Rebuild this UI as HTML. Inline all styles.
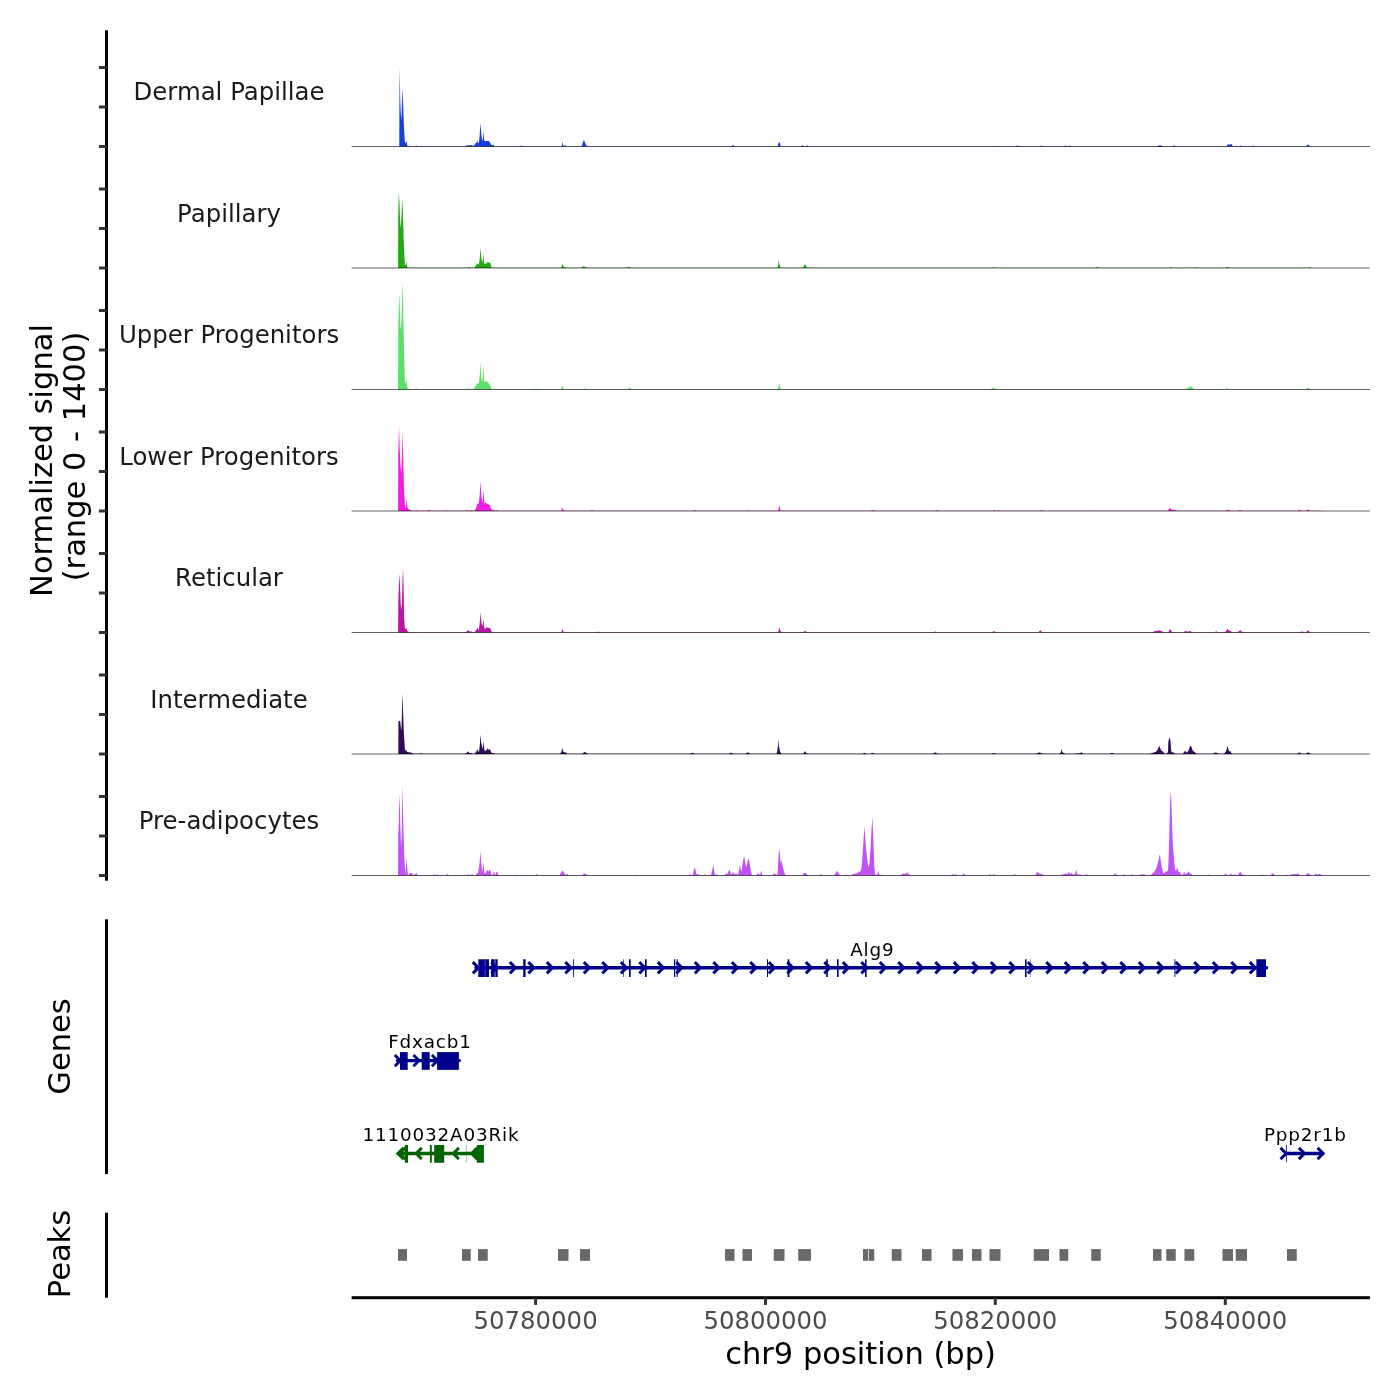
<!DOCTYPE html>
<html lang="en"><head><meta charset="utf-8"><title>chr9 coverage plot</title>
<style>
html,body{margin:0;padding:0;background:#fff;}
body{width:1400px;height:1400px;overflow:hidden;}
svg{display:block;}
text{font-family:"DejaVu Sans", "Liberation Sans", sans-serif;}
.strip{font-size:24.4px;fill:#1a1a1a;text-anchor:middle;}
.ttl{font-size:30.5px;fill:#000;text-anchor:middle;}
.tick{font-size:24.4px;fill:#4d4d4d;text-anchor:middle;}
.gene{font-size:18.4px;fill:#000;text-anchor:middle;letter-spacing:0.8px;}
</style></head><body>
<svg width="1400" height="1400" viewBox="0 0 1400 1400">
<rect x="0" y="0" width="1400" height="1400" fill="#ffffff"/>
<g id="coverage">
<path d="M351.6,146.50L399.30,146.50L399.30,146.35L399.40,106.35L399.70,67.85L400.20,98.35L400.70,112.35L401.40,120.35L402.00,102.35L402.50,87.85L403.10,102.35L403.90,126.35L404.90,142.35L405.70,143.15L406.40,140.55L407.30,145.75L409.00,145.95L409.40,146.22L415.60,146.22L416.00,146.05L416.50,145.35L417.00,146.05L417.40,146.22L431.60,146.22L432.00,146.05L432.40,146.22L449.60,146.22L450.00,146.05L450.40,146.22L465.30,146.22L465.70,145.85L468.00,145.15L470.00,145.35L471.50,144.95L472.50,145.85L474.30,145.35L475.50,143.35L476.50,142.75L477.30,140.15L478.00,142.75L478.80,143.15L479.60,136.35L480.50,123.05L481.30,134.35L482.40,141.45L483.00,137.35L483.50,131.15L484.10,139.35L484.70,141.35L486.30,141.05L488.90,141.05L490.20,142.95L491.40,144.95L492.30,145.35L493.10,144.55L494.40,146.05L494.80,146.22L519.60,146.22L520.00,146.05L521.00,145.55L522.00,146.05L522.40,146.22L561.20,146.22L561.60,145.95L562.10,144.85L562.50,141.15L563.00,144.85L563.60,145.75L565.50,145.45L566.50,146.05L566.90,146.22L581.20,146.22L581.60,146.05L582.40,144.15L583.20,141.15L583.90,140.15L584.80,141.85L585.80,144.75L587.20,145.95L587.60,146.22L599.60,146.22L600.00,146.05L600.40,146.22L611.60,146.22L612.00,145.75L612.40,146.22L615.60,146.22L616.00,146.05L616.40,146.22L636.60,146.22L637.00,145.65L637.40,146.22L639.60,146.22L640.00,146.05L640.40,146.22L659.60,146.22L660.00,145.75L660.40,146.22L663.60,146.22L664.00,146.05L664.40,146.22L731.20,146.22L731.60,146.05L733.00,145.05L734.20,146.05L734.60,146.22L777.40,146.22L777.80,146.05L778.40,143.15L779.20,142.05L780.00,143.15L780.60,146.05L781.00,146.22L801.10,146.22L801.50,146.05L802.50,145.15L803.50,145.95L803.90,146.22L805.60,146.22L806.00,145.95L807.00,145.15L808.00,146.05L808.40,146.22L994.60,146.22L995.00,146.05L995.40,146.22L997.60,146.22L998.00,145.45L998.40,146.22L1000.60,146.22L1001.00,146.05L1001.40,146.22L1015.60,146.22L1016.00,146.05L1017.50,145.45L1019.00,146.05L1019.40,146.22L1039.60,146.22L1040.00,146.05L1041.00,145.55L1042.00,146.05L1042.40,146.22L1063.60,146.22L1064.00,146.05L1066.00,145.45L1066.40,146.22L1068.60,146.22L1069.00,145.55L1071.00,146.05L1071.40,146.22L1127.60,146.22L1128.00,146.05L1128.40,146.22L1130.60,146.22L1131.00,145.55L1131.40,146.22L1136.60,146.22L1137.00,145.75L1137.40,146.22L1139.60,146.22L1140.00,146.05L1140.40,146.22L1157.60,146.22L1158.00,145.95L1160.00,145.05L1162.00,145.95L1162.40,146.22L1172.60,146.22L1173.00,145.95L1174.00,145.25L1175.00,145.95L1175.40,146.22L1189.60,146.22L1190.00,145.95L1190.40,146.22L1194.60,146.22L1195.00,145.45L1195.40,146.22L1204.60,146.22L1205.00,145.55L1205.40,146.22L1209.60,146.22L1210.00,146.05L1210.40,146.22L1226.10,146.22L1226.50,145.95L1227.60,144.75L1228.60,143.95L1229.60,144.95L1230.60,143.95L1231.80,144.15L1232.60,145.85L1233.00,146.22L1235.60,146.22L1236.00,145.55L1236.40,146.22L1239.60,146.22L1240.00,145.55L1242.00,146.05L1242.40,146.22L1251.60,146.22L1252.00,146.05L1253.00,145.45L1254.00,146.05L1254.40,146.22L1306.20,146.22L1306.60,146.05L1307.60,144.35L1308.60,145.35L1310.50,146.05L1311.10,146.50L1369.9,146.50Z" fill="#173DDC"/>
<line x1="351.6" x2="1369.9" y1="146.50" y2="146.50" stroke="#000" stroke-width="0.62"/>
<text class="strip" x="229" y="100.2">Dermal Papillae</text>
<path d="M351.6,268.00L398.10,268.00L398.10,267.85L398.25,217.85L398.70,192.25L399.40,201.85L400.10,219.85L400.80,228.35L401.50,215.85L402.30,198.65L402.90,211.85L403.70,239.85L404.90,265.15L405.70,264.85L406.40,261.65L407.30,267.25L407.70,267.72L409.60,267.72L410.00,267.35L410.40,267.72L412.60,267.72L413.00,267.45L413.40,267.72L449.60,267.72L450.00,267.65L450.40,267.72L467.60,267.72L468.00,267.45L470.00,266.95L470.40,267.72L472.10,267.72L472.50,267.35L472.90,267.72L474.70,267.72L475.10,266.85L476.40,264.65L477.30,262.95L478.10,264.45L478.90,264.25L479.70,258.85L480.50,247.95L481.30,257.85L482.20,262.55L482.90,259.85L483.50,254.35L484.00,261.35L484.40,263.85L485.40,264.05L487.10,262.55L488.20,262.05L489.60,263.05L490.60,263.25L491.00,266.35L491.60,267.45L492.00,267.72L560.90,267.72L561.30,267.55L562.00,265.85L562.50,263.85L563.10,265.25L563.80,266.95L565.00,267.25L566.00,267.65L566.40,267.72L580.60,267.72L581.00,267.65L582.50,266.85L583.70,266.25L585.20,266.95L587.00,267.55L587.40,267.72L620.60,267.72L621.00,267.55L621.40,267.72L623.60,267.72L624.00,267.25L624.40,267.72L626.60,267.72L627.00,267.45L628.70,266.75L630.50,267.45L630.90,267.72L777.20,267.72L777.60,267.55L778.20,264.45L778.70,259.85L779.30,264.25L780.00,265.85L780.50,267.55L780.90,267.72L802.80,267.72L803.20,267.55L804.20,265.25L805.00,264.25L805.90,265.45L806.70,267.25L807.10,267.72L809.60,267.72L810.00,267.35L812.00,267.65L812.40,267.72L991.60,267.72L992.00,267.65L994.00,267.15L996.00,267.65L996.40,267.72L1095.60,267.72L1096.00,267.55L1097.50,266.95L1099.00,267.55L1099.40,267.72L1159.60,267.72L1160.00,267.55L1160.40,267.72L1169.60,267.72L1170.00,267.15L1172.00,267.55L1172.40,267.72L1185.60,267.72L1186.00,267.55L1186.40,267.72L1189.60,267.72L1190.00,266.95L1190.40,267.72L1194.60,267.72L1195.00,267.25L1197.00,267.55L1197.40,267.72L1225.60,267.72L1226.00,267.55L1227.50,266.65L1229.00,267.55L1229.40,267.72L1304.60,267.72L1305.00,267.55L1305.40,267.72L1308.60,267.72L1309.00,267.05L1311.00,267.55L1311.60,268.00L1369.9,268.00Z" fill="#22AA12"/>
<line x1="351.6" x2="1369.9" y1="268.00" y2="268.00" stroke="#000" stroke-width="0.62"/>
<text class="strip" x="229" y="221.7">Papillary</text>
<path d="M351.6,389.50L398.10,389.50L398.10,389.35L398.30,329.35L398.90,303.35L399.30,293.35L399.90,311.35L400.40,325.35L400.80,330.05L401.40,323.35L402.10,299.35L402.70,282.85L403.20,309.35L403.90,344.35L404.90,383.15L405.70,383.35L406.40,379.25L407.20,386.75L407.90,388.55L408.30,389.22L409.60,389.22L410.00,388.75L412.00,389.05L412.40,389.22L415.60,389.22L416.00,389.05L416.60,388.35L417.20,389.05L417.60,389.22L466.60,389.22L467.00,389.05L469.00,388.35L469.40,389.22L471.10,389.22L471.50,388.55L472.50,389.05L474.30,388.55L475.60,385.95L476.80,384.35L477.70,383.15L478.40,383.75L479.00,382.85L479.80,375.35L480.50,361.75L481.20,377.35L482.20,382.25L482.90,376.35L483.50,365.55L484.10,379.35L484.60,382.75L485.40,381.15L486.30,381.45L487.80,382.15L489.40,384.15L490.60,386.75L491.40,388.45L491.80,389.22L493.60,389.22L494.00,388.75L496.00,389.05L496.40,389.22L533.60,389.22L534.00,389.05L536.00,388.65L538.00,389.05L538.40,389.22L560.80,389.22L561.20,389.05L561.80,386.95L562.30,384.95L562.90,387.15L563.50,388.75L563.90,389.22L565.60,389.22L566.00,388.95L566.40,389.22L583.10,389.22L583.50,389.05L585.00,388.25L586.50,389.05L586.90,389.22L627.60,389.22L628.00,389.05L629.50,387.55L631.00,389.05L631.40,389.22L777.60,389.22L778.00,389.05L778.60,386.35L779.20,383.15L779.90,386.35L780.50,389.05L780.90,389.22L990.60,389.22L991.00,389.05L993.00,387.85L996.00,388.75L998.00,389.15L998.40,389.22L1094.60,389.22L1095.00,389.05L1095.40,389.22L1097.10,389.22L1097.50,388.55L1097.90,389.22L1099.60,389.22L1100.00,389.05L1100.40,389.22L1184.60,389.22L1185.00,389.05L1187.50,388.15L1189.50,386.95L1190.70,386.15L1192.20,387.75L1194.00,389.05L1194.40,389.22L1225.20,389.22L1225.60,389.05L1227.00,388.05L1228.40,389.05L1228.80,389.22L1305.60,389.22L1306.00,389.05L1308.00,387.75L1310.00,389.05L1310.60,389.50L1369.9,389.50Z" fill="#5CDE6A"/>
<line x1="351.6" x2="1369.9" y1="389.50" y2="389.50" stroke="#000" stroke-width="0.62"/>
<text class="strip" x="229" y="343.2">Upper Progenitors</text>
<path d="M351.6,511.00L398.10,511.00L398.10,510.85L398.25,455.85L399.00,425.35L399.70,448.85L400.50,466.85L401.30,473.35L401.90,454.85L402.50,431.75L403.10,454.85L403.90,484.85L405.00,507.65L405.80,506.25L406.60,499.45L407.40,507.45L408.50,509.05L410.90,510.35L411.30,510.72L415.60,510.72L416.00,510.35L417.00,509.95L417.40,510.72L419.60,510.72L420.00,510.15L420.40,510.72L422.60,510.72L423.00,510.55L423.40,510.72L426.60,510.72L427.00,510.55L429.00,510.05L431.00,510.55L431.40,510.72L444.60,510.72L445.00,510.55L447.00,510.25L447.40,510.72L454.60,510.72L455.00,510.35L455.40,510.72L457.60,510.72L458.00,510.65L458.40,510.72L465.60,510.72L466.00,510.55L468.00,509.95L468.40,510.72L470.60,510.72L471.00,510.05L472.50,510.55L472.90,510.72L474.30,510.72L474.70,510.05L476.00,508.45L477.00,504.65L477.70,503.35L478.40,504.25L479.00,502.05L479.80,493.85L480.50,481.05L481.30,495.85L482.40,502.45L483.00,496.85L483.50,490.05L484.10,499.85L484.70,504.15L485.40,502.35L486.30,503.35L488.00,504.05L489.70,505.05L490.60,507.85L491.40,509.35L493.00,509.95L494.90,510.45L496.00,510.45L497.00,509.95L498.00,510.55L498.40,510.72L561.00,510.72L561.40,510.55L562.00,507.05L562.60,509.05L563.30,510.05L565.00,510.45L565.40,510.72L589.60,510.72L590.00,510.55L592.00,510.25L594.00,510.55L594.40,510.72L693.10,510.72L693.50,510.55L695.00,510.05L696.50,510.55L696.90,510.72L746.60,510.72L747.00,510.55L748.60,510.15L750.00,510.55L750.40,510.72L777.80,510.72L778.20,510.55L778.80,507.65L779.30,505.65L779.90,508.45L780.60,510.55L781.00,510.72L870.60,510.72L871.00,510.55L873.00,510.05L875.00,510.55L875.40,510.72L934.60,510.72L935.00,510.55L937.00,510.25L939.00,510.55L939.40,510.72L992.60,510.72L993.00,510.55L995.00,510.05L995.40,510.72L997.60,510.72L998.00,510.15L999.50,510.55L999.90,510.72L1039.60,510.72L1040.00,510.55L1042.00,510.25L1044.00,510.55L1044.40,510.72L1089.60,510.72L1090.00,510.55L1090.40,510.72L1093.60,510.72L1094.00,510.05L1094.40,510.72L1097.60,510.72L1098.00,510.55L1098.40,510.72L1139.60,510.72L1140.00,510.55L1140.40,510.72L1149.60,510.72L1150.00,510.05L1150.40,510.72L1159.60,510.72L1160.00,510.05L1160.40,510.72L1168.00,510.72L1168.40,509.95L1169.40,507.95L1170.60,508.65L1172.00,509.65L1176.00,510.05L1176.40,510.72L1185.60,510.72L1186.00,509.95L1186.40,510.72L1191.60,510.72L1192.00,509.95L1192.40,510.72L1195.60,510.72L1196.00,510.55L1196.40,510.72L1225.60,510.72L1226.00,510.55L1228.00,509.85L1230.00,510.55L1230.40,510.72L1237.60,510.72L1238.00,510.55L1240.00,510.05L1242.00,510.55L1242.40,510.72L1297.60,510.72L1298.00,510.55L1299.50,509.65L1301.00,510.45L1301.40,510.72L1306.10,510.72L1306.50,510.45L1308.00,509.45L1309.50,510.55L1309.90,510.72L1315.60,510.72L1316.00,510.55L1316.40,510.72L1321.60,510.72L1322.00,510.55L1322.60,511.00L1369.9,511.00Z" fill="#F01EE1"/>
<line x1="351.6" x2="1369.9" y1="511.00" y2="511.00" stroke="#000" stroke-width="0.62"/>
<text class="strip" x="229" y="464.7">Lower Progenitors</text>
<path d="M351.6,632.50L398.10,632.50L398.10,632.35L398.30,602.35L399.00,582.35L399.50,573.85L400.10,588.35L400.80,605.35L401.30,610.25L401.90,602.35L402.50,580.35L403.10,568.25L403.60,588.35L404.20,618.35L404.90,628.25L405.80,629.15L406.60,627.85L407.30,631.15L408.30,631.45L408.70,632.22L410.60,632.22L411.00,632.05L411.40,632.22L465.60,632.22L466.00,632.05L467.40,630.95L468.30,629.95L469.30,631.35L470.50,631.75L471.30,630.95L472.00,632.05L472.40,632.22L474.30,632.22L474.70,631.75L476.20,630.15L477.50,627.35L478.20,629.75L478.90,629.55L479.80,622.35L480.50,611.95L481.30,622.35L482.30,626.55L482.90,623.35L483.50,619.25L484.00,625.85L484.60,629.05L485.60,628.15L487.10,627.35L488.60,627.95L489.60,627.95L490.60,628.65L491.20,630.85L491.90,631.95L492.30,632.22L493.60,632.22L494.00,631.95L494.40,632.22L496.60,632.22L497.00,632.15L497.40,632.22L560.80,632.22L561.20,632.05L561.80,631.15L562.30,628.15L562.90,630.95L563.80,631.75L564.20,632.22L565.60,632.22L566.00,632.05L566.40,632.22L595.60,632.22L596.00,632.05L598.00,631.75L600.00,632.05L600.40,632.22L777.90,632.22L778.30,632.05L778.90,629.35L779.40,627.15L780.00,629.95L780.80,631.35L781.60,632.05L782.00,632.22L803.20,632.22L803.60,632.05L805.00,630.75L806.60,631.95L807.00,632.22L933.60,632.22L934.00,632.05L935.50,631.45L937.00,632.05L937.40,632.22L991.60,632.22L992.00,632.05L994.00,631.35L996.00,632.05L996.40,632.22L1038.20,632.22L1038.60,632.05L1040.30,630.35L1042.00,632.05L1042.40,632.22L1149.60,632.22L1150.00,632.05L1150.40,632.22L1153.60,632.22L1154.00,631.35L1157.40,630.75L1158.80,630.15L1160.40,630.75L1163.00,631.75L1163.40,632.22L1168.20,632.22L1168.60,631.75L1169.40,629.75L1170.00,628.65L1170.80,630.35L1172.00,631.65L1172.40,632.22L1175.60,632.22L1176.00,631.95L1176.40,632.22L1183.60,632.22L1184.00,631.95L1185.60,630.65L1187.00,631.85L1189.60,631.05L1191.60,632.05L1192.00,632.22L1214.60,632.22L1215.00,632.05L1216.20,631.15L1217.40,632.05L1217.80,632.22L1225.00,632.22L1225.40,631.95L1226.60,630.15L1227.40,628.65L1228.40,630.35L1230.00,630.75L1232.00,631.95L1232.40,632.22L1237.60,632.22L1238.00,631.95L1239.40,630.65L1240.40,630.15L1241.60,631.55L1243.00,632.05L1243.40,632.22L1299.60,632.22L1300.00,632.05L1302.00,631.55L1304.00,631.95L1304.40,632.22L1306.20,632.22L1306.60,631.85L1308.00,630.15L1309.60,631.95L1310.20,632.50L1369.9,632.50Z" fill="#B916A5"/>
<line x1="351.6" x2="1369.9" y1="632.50" y2="632.50" stroke="#000" stroke-width="0.62"/>
<text class="strip" x="229" y="586.2">Reticular</text>
<path d="M351.6,754.00L398.30,754.00L398.30,753.85L398.45,721.65L398.80,720.85L400.30,721.25L400.60,725.85L401.30,730.95L401.80,717.85L402.50,693.25L403.10,711.85L403.90,733.85L405.00,750.75L405.50,750.55L406.10,749.45L406.90,751.85L408.00,752.25L410.00,752.35L412.10,752.95L413.00,753.55L413.40,753.72L419.60,753.72L420.00,753.55L421.00,753.05L422.00,753.55L422.40,753.72L464.60,753.72L465.00,753.45L466.80,753.05L467.00,751.85L468.70,751.85L468.90,752.95L470.50,753.05L471.50,752.95L472.00,753.55L472.40,753.72L474.30,753.72L474.70,753.25L476.00,752.25L477.50,748.95L478.20,751.45L478.60,752.05L479.20,750.45L479.90,743.85L480.50,734.45L481.20,742.85L481.70,744.25L482.40,749.25L483.00,745.85L483.50,741.75L484.10,747.85L484.70,751.35L485.60,750.45L486.60,750.25L487.60,748.15L488.60,749.85L490.10,749.35L490.80,751.25L491.40,752.85L493.00,752.95L494.90,753.45L495.30,753.72L497.60,753.72L498.00,753.55L498.40,753.72L559.80,753.72L560.20,753.45L561.40,752.05L562.30,748.05L563.00,751.05L564.00,752.15L565.40,752.35L567.00,753.45L567.40,753.72L582.20,753.72L582.60,753.45L583.80,752.55L584.80,751.65L586.00,752.85L587.40,753.55L587.80,753.72L690.20,753.72L690.60,753.55L692.50,752.65L694.40,753.55L694.80,753.72L728.60,753.72L729.00,753.55L731.00,752.85L733.00,753.55L733.40,753.72L745.20,753.72L745.60,753.55L748.00,752.25L749.60,753.55L750.00,753.72L776.20,753.72L776.60,753.45L777.40,750.45L778.00,744.85L778.30,739.05L778.90,745.85L779.80,750.45L780.60,752.65L781.40,753.55L781.80,753.72L803.00,753.72L803.40,753.55L804.40,752.05L805.20,751.25L806.20,752.65L807.40,753.55L807.80,753.72L862.60,753.72L863.00,753.55L864.50,752.75L866.00,753.55L866.40,753.72L870.60,753.72L871.00,753.55L872.50,752.75L874.00,753.55L874.40,753.72L933.00,753.72L933.40,753.55L935.00,752.25L936.60,753.25L938.00,753.65L938.40,753.72L991.60,753.72L992.00,753.55L994.00,752.95L996.00,753.55L996.40,753.72L1035.60,753.72L1036.00,753.55L1038.00,752.95L1039.60,752.15L1041.00,752.95L1042.60,753.55L1043.00,753.72L1059.40,753.72L1059.80,753.45L1060.80,752.25L1061.50,748.85L1062.30,752.05L1063.60,753.05L1065.00,753.55L1065.40,753.72L1075.60,753.72L1076.00,753.55L1078.00,753.15L1080.00,753.25L1081.40,752.25L1083.00,753.55L1083.40,753.72L1109.60,753.72L1110.00,753.55L1112.00,752.85L1114.00,753.55L1114.40,753.72L1150.10,753.72L1150.50,753.45L1153.00,752.65L1156.00,751.65L1157.60,749.85L1158.60,747.25L1159.20,745.65L1160.00,747.85L1161.20,750.45L1162.60,751.25L1164.20,753.05L1164.60,753.72L1166.60,753.72L1167.00,752.95L1168.00,752.25L1168.30,741.85L1169.20,738.25L1169.80,737.65L1170.50,740.85L1171.30,751.45L1172.60,752.25L1174.60,753.35L1175.00,753.72L1182.60,753.72L1183.00,753.45L1184.40,751.45L1185.20,750.65L1186.00,752.25L1186.90,752.45L1188.40,750.85L1189.40,747.85L1190.40,745.65L1191.40,746.85L1192.80,750.65L1194.20,751.85L1196.20,753.35L1196.60,753.72L1213.20,753.72L1213.60,753.55L1215.00,752.55L1216.80,752.65L1218.00,753.55L1218.40,753.72L1224.10,753.72L1224.50,753.35L1225.60,752.05L1226.60,749.45L1227.40,745.85L1228.20,748.45L1229.00,751.25L1230.20,751.05L1231.20,752.65L1231.90,753.45L1232.30,753.72L1297.20,753.72L1297.60,753.55L1299.40,752.25L1301.00,753.45L1301.40,753.72L1305.60,753.72L1306.00,753.45L1307.40,752.45L1309.00,752.65L1310.60,753.55L1311.20,754.00L1369.9,754.00Z" fill="#300C58"/>
<line x1="351.6" x2="1369.9" y1="754.00" y2="754.00" stroke="#000" stroke-width="0.62"/>
<text class="strip" x="229" y="707.7">Intermediate</text>
<path d="M351.6,875.50L398.10,875.50L398.10,875.35L398.25,835.35L398.80,823.35L399.10,805.35L399.50,793.55L400.00,811.35L400.30,825.35L400.80,839.35L401.30,848.05L401.80,829.35L402.50,784.15L403.00,809.35L403.60,835.35L404.40,859.35L405.30,873.75L405.90,867.35L406.60,857.85L407.20,867.35L407.90,874.85L408.80,874.95L409.30,873.05L410.40,873.35L411.20,872.95L411.90,873.05L412.30,872.95L413.00,874.95L414.20,875.05L414.70,874.15L415.40,874.35L415.90,873.35L416.60,872.95L417.00,874.45L418.50,875.05L418.90,875.22L429.60,875.22L430.00,875.05L430.40,875.22L432.60,875.22L433.00,874.85L435.00,874.45L436.00,875.05L437.50,874.65L439.00,875.05L439.40,875.22L445.60,875.22L446.00,875.05L447.50,874.05L448.50,874.95L448.90,875.22L454.60,875.22L455.00,875.05L456.00,874.75L457.00,875.05L457.40,875.22L466.60,875.22L467.00,875.05L468.60,874.45L470.00,875.05L471.00,874.95L472.20,874.05L473.00,874.95L473.40,875.22L475.60,875.22L476.00,874.95L477.00,873.35L478.00,872.75L478.60,869.45L479.20,866.35L479.90,859.35L480.50,851.05L481.10,861.35L481.60,864.75L482.20,872.05L482.90,867.35L483.50,862.15L484.10,869.35L484.70,873.75L485.60,873.35L486.60,871.35L487.60,869.85L488.40,871.95L489.20,870.05L490.10,869.85L490.90,873.35L491.40,874.85L493.00,874.85L493.60,872.75L494.40,871.45L495.00,874.55L495.80,874.35L496.40,871.75L497.00,871.45L497.70,873.35L498.30,874.95L498.70,875.22L513.60,875.22L514.00,875.05L516.00,874.65L516.40,875.22L519.60,875.22L520.00,874.85L520.40,875.22L522.60,875.22L523.00,874.55L523.40,875.22L526.60,875.22L527.00,874.65L529.00,875.15L529.40,875.22L535.20,875.22L535.60,875.05L536.75,874.05L538.00,875.05L538.40,875.22L559.20,875.22L559.60,874.95L560.60,873.55L561.60,871.95L562.50,870.35L563.40,871.75L564.40,873.35L565.30,874.75L566.60,874.85L567.50,873.65L568.40,875.05L568.80,875.22L582.20,875.22L582.60,875.05L583.60,873.95L584.50,873.15L585.60,874.05L587.60,874.95L588.00,875.22L633.60,875.22L634.00,875.05L636.00,874.65L636.40,875.22L639.60,875.22L640.00,874.85L640.40,875.22L644.60,875.22L645.00,874.65L645.40,875.22L647.60,875.22L648.00,875.15L648.40,875.22L688.20,875.22L688.60,875.05L690.00,874.15L691.40,874.95L692.80,874.85L693.60,870.95L694.50,867.75L695.30,868.75L696.00,872.75L697.00,874.55L698.60,874.35L700.40,875.05L700.80,875.22L703.60,875.22L704.00,875.05L705.00,874.15L706.00,875.05L706.40,875.22L710.60,875.22L711.00,874.95L711.80,872.35L712.60,868.35L713.25,864.75L713.80,867.75L714.50,873.55L715.20,874.85L717.00,874.45L718.20,875.05L718.60,875.22L724.20,875.22L724.60,875.05L725.60,873.95L726.30,873.15L727.00,873.95L727.80,873.15L728.60,871.35L729.25,869.75L730.00,870.95L730.80,873.35L731.60,874.55L732.30,873.55L733.00,871.95L733.80,873.35L734.80,874.35L735.60,874.15L736.25,872.95L737.00,874.55L738.30,874.35L739.00,870.35L739.60,866.75L740.00,864.55L740.60,869.35L741.30,871.75L742.00,868.35L742.80,862.35L743.60,858.35L744.25,856.55L744.90,859.75L745.60,864.75L746.25,866.75L747.00,864.55L747.80,860.35L748.75,858.55L749.50,862.75L750.40,868.35L751.30,872.75L752.00,874.95L752.40,875.22L756.20,875.22L756.60,875.05L757.40,873.75L758.00,872.95L758.80,874.35L760.20,874.45L760.80,872.35L761.25,870.15L761.80,873.55L762.40,875.05L762.80,875.22L772.40,875.22L772.80,875.05L773.60,873.75L774.25,873.15L775.00,873.75L776.20,874.75L777.50,874.35L778.00,866.35L778.60,855.35L779.25,847.75L779.80,853.35L780.50,862.35L781.10,863.35L781.75,859.75L782.40,864.75L783.20,868.35L784.20,872.35L785.50,874.95L785.90,875.22L802.00,875.22L802.40,875.05L803.20,873.75L804.50,872.75L805.80,873.35L806.80,873.95L807.50,874.95L807.90,875.22L819.40,875.22L819.80,875.05L821.25,874.15L822.60,875.05L823.00,875.22L833.60,875.22L834.00,874.95L835.00,873.75L836.00,872.75L837.00,870.75L837.80,872.15L838.60,873.55L839.60,874.75L840.00,875.22L841.60,875.22L842.00,874.75L842.40,875.22L844.60,875.22L845.00,874.55L847.00,875.05L847.40,875.22L851.20,875.22L851.60,874.95L852.60,873.95L854.00,874.15L855.20,873.35L856.20,873.75L857.00,872.75L858.00,873.15L858.80,871.35L859.60,872.15L860.40,870.95L861.25,869.75L862.00,863.35L862.80,851.35L863.60,839.35L864.50,826.45L865.20,837.35L866.00,848.35L866.80,855.35L867.60,862.35L868.30,865.95L868.75,866.75L869.40,864.35L870.20,853.35L871.00,839.35L871.80,825.35L872.50,817.75L873.00,831.35L873.60,845.35L874.20,863.35L874.90,873.35L875.60,874.75L877.40,874.55L878.25,869.75L879.00,874.35L880.40,874.75L882.40,875.05L882.80,875.22L900.20,875.22L900.60,875.05L902.00,874.35L903.60,873.35L904.80,874.15L906.00,873.15L907.40,872.35L908.40,874.15L910.00,874.45L910.40,875.22L912.00,875.22L912.40,874.95L912.80,875.22L950.60,875.22L951.00,875.05L952.50,874.25L954.00,874.65L955.80,874.25L957.00,875.05L957.40,875.22L962.00,875.22L962.40,875.05L963.75,873.35L965.00,874.95L965.40,875.22L988.20,875.22L988.60,875.05L990.00,874.15L991.40,874.95L992.40,874.95L993.75,874.15L995.20,875.05L995.60,875.22L1012.60,875.22L1013.00,875.05L1014.50,874.25L1016.00,875.05L1016.40,875.22L1029.60,875.22L1030.00,875.05L1030.40,875.22L1032.60,875.22L1033.00,874.75L1033.40,875.22L1035.20,875.22L1035.60,874.85L1036.40,872.55L1037.40,872.35L1038.40,872.75L1039.40,873.95L1041.00,873.65L1042.40,874.15L1043.60,875.05L1044.00,875.22L1060.20,875.22L1060.60,875.05L1062.50,874.15L1064.00,874.45L1065.40,873.15L1066.60,874.15L1067.80,873.15L1068.75,871.75L1069.80,873.75L1071.00,872.75L1072.50,874.15L1074.00,874.45L1075.20,873.75L1075.80,871.35L1076.25,869.55L1076.90,872.75L1077.60,874.35L1079.00,874.85L1080.00,874.15L1081.40,874.95L1081.80,875.22L1084.60,875.22L1085.00,874.95L1086.25,874.15L1087.50,874.75L1087.90,875.22L1089.60,875.22L1090.00,875.05L1090.40,875.22L1113.00,875.22L1113.40,875.05L1114.40,873.95L1115.00,873.15L1116.00,874.35L1117.60,875.05L1118.00,875.22L1122.00,875.22L1122.40,875.05L1123.75,874.35L1125.00,875.05L1125.40,875.22L1130.20,875.22L1130.60,875.05L1132.00,874.25L1133.40,875.05L1133.80,875.22L1139.10,875.22L1139.50,875.05L1141.00,874.05L1142.40,874.65L1144.00,874.05L1145.40,875.05L1145.80,875.22L1150.40,875.22L1150.80,875.05L1151.90,874.35L1153.00,872.75L1154.20,872.35L1155.00,870.55L1156.00,869.35L1157.00,866.35L1157.80,862.75L1158.60,860.35L1159.30,855.95L1159.70,854.15L1160.40,858.35L1161.20,863.75L1162.00,868.35L1162.80,871.35L1163.40,873.15L1164.40,873.35L1165.40,871.75L1166.20,871.15L1167.00,871.75L1167.60,870.75L1168.10,869.15L1168.60,859.35L1169.20,839.35L1169.80,815.35L1170.40,797.35L1170.90,791.95L1171.40,801.35L1171.90,819.35L1172.50,837.35L1173.10,848.85L1173.70,854.35L1174.30,862.35L1174.90,869.15L1175.60,870.95L1176.40,870.15L1177.00,868.35L1177.40,867.15L1178.00,869.95L1178.80,872.15L1179.40,871.75L1180.10,872.35L1180.80,873.95L1181.80,874.75L1183.20,874.55L1183.80,872.15L1184.40,871.75L1185.00,873.95L1185.80,874.15L1186.60,872.95L1187.60,872.95L1188.50,871.15L1189.20,872.15L1190.00,873.75L1190.80,873.35L1191.60,874.55L1192.40,875.05L1192.80,875.22L1207.00,875.22L1207.40,875.05L1208.40,874.45L1209.40,875.05L1209.80,875.22L1224.00,875.22L1224.40,875.05L1225.20,873.85L1226.20,874.05L1227.00,874.95L1227.40,875.22L1229.20,875.22L1229.60,875.05L1230.40,873.85L1231.20,873.65L1232.00,874.65L1233.60,874.95L1234.60,874.25L1235.60,875.05L1236.00,875.22L1237.60,875.22L1238.00,875.05L1238.80,873.75L1239.60,872.35L1240.10,871.65L1240.90,872.35L1241.60,873.95L1242.40,874.55L1244.00,874.75L1245.40,875.15L1245.80,875.22L1259.60,875.22L1260.00,875.05L1262.00,874.65L1264.00,875.05L1264.40,875.22L1270.40,875.22L1270.80,875.05L1271.80,873.95L1272.60,873.25L1273.60,873.85L1274.60,875.05L1275.00,875.22L1285.60,875.22L1286.00,875.05L1288.00,874.65L1288.40,875.22L1290.20,875.22L1290.60,874.75L1291.60,874.15L1293.20,874.35L1294.60,873.95L1296.20,874.15L1297.20,873.75L1298.00,873.15L1298.80,873.75L1299.60,874.95L1300.00,875.22L1305.80,875.22L1306.20,875.05L1307.00,873.35L1307.90,872.75L1308.80,873.75L1309.80,874.15L1310.80,874.95L1311.20,875.22L1314.00,875.22L1314.40,875.05L1315.20,873.95L1316.20,873.85L1317.00,874.85L1318.20,874.85L1319.00,873.85L1319.90,873.95L1320.80,874.55L1322.00,875.05L1322.60,875.50L1369.9,875.50Z" fill="#C052F7"/>
<line x1="351.6" x2="1369.9" y1="875.50" y2="875.50" stroke="#000" stroke-width="0.62"/>
<text class="strip" x="229" y="829.2">Pre-adipocytes</text>
</g>
<g id="yaxis">
<rect x="105" y="30.3" width="3" height="850.4" fill="#000"/>
<rect x="98.9" y="145.00" width="7.6" height="3" fill="#333"/>
<rect x="98.9" y="105.50" width="7.6" height="3" fill="#333"/>
<rect x="98.9" y="66.00" width="7.6" height="3" fill="#333"/>
<rect x="98.9" y="266.50" width="7.6" height="3" fill="#333"/>
<rect x="98.9" y="227.00" width="7.6" height="3" fill="#333"/>
<rect x="98.9" y="187.50" width="7.6" height="3" fill="#333"/>
<rect x="98.9" y="388.00" width="7.6" height="3" fill="#333"/>
<rect x="98.9" y="348.50" width="7.6" height="3" fill="#333"/>
<rect x="98.9" y="309.00" width="7.6" height="3" fill="#333"/>
<rect x="98.9" y="509.50" width="7.6" height="3" fill="#333"/>
<rect x="98.9" y="470.00" width="7.6" height="3" fill="#333"/>
<rect x="98.9" y="430.50" width="7.6" height="3" fill="#333"/>
<rect x="98.9" y="631.00" width="7.6" height="3" fill="#333"/>
<rect x="98.9" y="591.50" width="7.6" height="3" fill="#333"/>
<rect x="98.9" y="552.00" width="7.6" height="3" fill="#333"/>
<rect x="98.9" y="752.50" width="7.6" height="3" fill="#333"/>
<rect x="98.9" y="713.00" width="7.6" height="3" fill="#333"/>
<rect x="98.9" y="673.50" width="7.6" height="3" fill="#333"/>
<rect x="98.9" y="874.00" width="7.6" height="3" fill="#333"/>
<rect x="98.9" y="834.50" width="7.6" height="3" fill="#333"/>
<rect x="98.9" y="795.00" width="7.6" height="3" fill="#333"/>
<text class="ttl" transform="translate(52.3,460.5) rotate(-90)" x="0" y="0">Normalized signal</text>
<text class="ttl" transform="translate(85.2,456.5) rotate(-90)" x="0" y="0">(range 0 - 1400)</text>
</g>
<g id="genes">
<rect x="105" y="919.3" width="3" height="254.8" fill="#000"/>
<text class="ttl" transform="translate(69.6,1046.5) rotate(-90)">Genes</text>
<line x1="476" x2="1266.6" y1="967.75" y2="967.75" stroke="#00008B" stroke-width="3.4" stroke-linecap="round"/>
<polyline points="472.80,962.15 478.40,967.75 472.80,973.35" fill="none" stroke="#00008B" stroke-width="2.9" stroke-linejoin="miter" stroke-linecap="butt"/>
<polyline points="491.30,962.15 496.90,967.75 491.30,973.35" fill="none" stroke="#00008B" stroke-width="2.9" stroke-linejoin="miter" stroke-linecap="butt"/>
<polyline points="509.80,962.15 515.40,967.75 509.80,973.35" fill="none" stroke="#00008B" stroke-width="2.9" stroke-linejoin="miter" stroke-linecap="butt"/>
<polyline points="528.30,962.15 533.90,967.75 528.30,973.35" fill="none" stroke="#00008B" stroke-width="2.9" stroke-linejoin="miter" stroke-linecap="butt"/>
<polyline points="546.80,962.15 552.40,967.75 546.80,973.35" fill="none" stroke="#00008B" stroke-width="2.9" stroke-linejoin="miter" stroke-linecap="butt"/>
<polyline points="565.30,962.15 570.90,967.75 565.30,973.35" fill="none" stroke="#00008B" stroke-width="2.9" stroke-linejoin="miter" stroke-linecap="butt"/>
<polyline points="583.80,962.15 589.40,967.75 583.80,973.35" fill="none" stroke="#00008B" stroke-width="2.9" stroke-linejoin="miter" stroke-linecap="butt"/>
<polyline points="602.30,962.15 607.90,967.75 602.30,973.35" fill="none" stroke="#00008B" stroke-width="2.9" stroke-linejoin="miter" stroke-linecap="butt"/>
<polyline points="620.80,962.15 626.40,967.75 620.80,973.35" fill="none" stroke="#00008B" stroke-width="2.9" stroke-linejoin="miter" stroke-linecap="butt"/>
<polyline points="639.30,962.15 644.90,967.75 639.30,973.35" fill="none" stroke="#00008B" stroke-width="2.9" stroke-linejoin="miter" stroke-linecap="butt"/>
<polyline points="657.80,962.15 663.40,967.75 657.80,973.35" fill="none" stroke="#00008B" stroke-width="2.9" stroke-linejoin="miter" stroke-linecap="butt"/>
<polyline points="676.30,962.15 681.90,967.75 676.30,973.35" fill="none" stroke="#00008B" stroke-width="2.9" stroke-linejoin="miter" stroke-linecap="butt"/>
<polyline points="694.80,962.15 700.40,967.75 694.80,973.35" fill="none" stroke="#00008B" stroke-width="2.9" stroke-linejoin="miter" stroke-linecap="butt"/>
<polyline points="713.30,962.15 718.90,967.75 713.30,973.35" fill="none" stroke="#00008B" stroke-width="2.9" stroke-linejoin="miter" stroke-linecap="butt"/>
<polyline points="731.80,962.15 737.40,967.75 731.80,973.35" fill="none" stroke="#00008B" stroke-width="2.9" stroke-linejoin="miter" stroke-linecap="butt"/>
<polyline points="750.30,962.15 755.90,967.75 750.30,973.35" fill="none" stroke="#00008B" stroke-width="2.9" stroke-linejoin="miter" stroke-linecap="butt"/>
<polyline points="768.80,962.15 774.40,967.75 768.80,973.35" fill="none" stroke="#00008B" stroke-width="2.9" stroke-linejoin="miter" stroke-linecap="butt"/>
<polyline points="787.30,962.15 792.90,967.75 787.30,973.35" fill="none" stroke="#00008B" stroke-width="2.9" stroke-linejoin="miter" stroke-linecap="butt"/>
<polyline points="805.80,962.15 811.40,967.75 805.80,973.35" fill="none" stroke="#00008B" stroke-width="2.9" stroke-linejoin="miter" stroke-linecap="butt"/>
<polyline points="824.30,962.15 829.90,967.75 824.30,973.35" fill="none" stroke="#00008B" stroke-width="2.9" stroke-linejoin="miter" stroke-linecap="butt"/>
<polyline points="842.80,962.15 848.40,967.75 842.80,973.35" fill="none" stroke="#00008B" stroke-width="2.9" stroke-linejoin="miter" stroke-linecap="butt"/>
<polyline points="861.30,962.15 866.90,967.75 861.30,973.35" fill="none" stroke="#00008B" stroke-width="2.9" stroke-linejoin="miter" stroke-linecap="butt"/>
<polyline points="879.80,962.15 885.40,967.75 879.80,973.35" fill="none" stroke="#00008B" stroke-width="2.9" stroke-linejoin="miter" stroke-linecap="butt"/>
<polyline points="898.30,962.15 903.90,967.75 898.30,973.35" fill="none" stroke="#00008B" stroke-width="2.9" stroke-linejoin="miter" stroke-linecap="butt"/>
<polyline points="916.80,962.15 922.40,967.75 916.80,973.35" fill="none" stroke="#00008B" stroke-width="2.9" stroke-linejoin="miter" stroke-linecap="butt"/>
<polyline points="935.30,962.15 940.90,967.75 935.30,973.35" fill="none" stroke="#00008B" stroke-width="2.9" stroke-linejoin="miter" stroke-linecap="butt"/>
<polyline points="953.80,962.15 959.40,967.75 953.80,973.35" fill="none" stroke="#00008B" stroke-width="2.9" stroke-linejoin="miter" stroke-linecap="butt"/>
<polyline points="972.30,962.15 977.90,967.75 972.30,973.35" fill="none" stroke="#00008B" stroke-width="2.9" stroke-linejoin="miter" stroke-linecap="butt"/>
<polyline points="990.80,962.15 996.40,967.75 990.80,973.35" fill="none" stroke="#00008B" stroke-width="2.9" stroke-linejoin="miter" stroke-linecap="butt"/>
<polyline points="1009.30,962.15 1014.90,967.75 1009.30,973.35" fill="none" stroke="#00008B" stroke-width="2.9" stroke-linejoin="miter" stroke-linecap="butt"/>
<polyline points="1027.80,962.15 1033.40,967.75 1027.80,973.35" fill="none" stroke="#00008B" stroke-width="2.9" stroke-linejoin="miter" stroke-linecap="butt"/>
<polyline points="1046.30,962.15 1051.90,967.75 1046.30,973.35" fill="none" stroke="#00008B" stroke-width="2.9" stroke-linejoin="miter" stroke-linecap="butt"/>
<polyline points="1064.80,962.15 1070.40,967.75 1064.80,973.35" fill="none" stroke="#00008B" stroke-width="2.9" stroke-linejoin="miter" stroke-linecap="butt"/>
<polyline points="1083.30,962.15 1088.90,967.75 1083.30,973.35" fill="none" stroke="#00008B" stroke-width="2.9" stroke-linejoin="miter" stroke-linecap="butt"/>
<polyline points="1101.80,962.15 1107.40,967.75 1101.80,973.35" fill="none" stroke="#00008B" stroke-width="2.9" stroke-linejoin="miter" stroke-linecap="butt"/>
<polyline points="1120.30,962.15 1125.90,967.75 1120.30,973.35" fill="none" stroke="#00008B" stroke-width="2.9" stroke-linejoin="miter" stroke-linecap="butt"/>
<polyline points="1138.80,962.15 1144.40,967.75 1138.80,973.35" fill="none" stroke="#00008B" stroke-width="2.9" stroke-linejoin="miter" stroke-linecap="butt"/>
<polyline points="1157.30,962.15 1162.90,967.75 1157.30,973.35" fill="none" stroke="#00008B" stroke-width="2.9" stroke-linejoin="miter" stroke-linecap="butt"/>
<polyline points="1175.80,962.15 1181.40,967.75 1175.80,973.35" fill="none" stroke="#00008B" stroke-width="2.9" stroke-linejoin="miter" stroke-linecap="butt"/>
<polyline points="1194.30,962.15 1199.90,967.75 1194.30,973.35" fill="none" stroke="#00008B" stroke-width="2.9" stroke-linejoin="miter" stroke-linecap="butt"/>
<polyline points="1212.80,962.15 1218.40,967.75 1212.80,973.35" fill="none" stroke="#00008B" stroke-width="2.9" stroke-linejoin="miter" stroke-linecap="butt"/>
<polyline points="1231.30,962.15 1236.90,967.75 1231.30,973.35" fill="none" stroke="#00008B" stroke-width="2.9" stroke-linejoin="miter" stroke-linecap="butt"/>
<polyline points="1249.80,962.15 1255.40,967.75 1249.80,973.35" fill="none" stroke="#00008B" stroke-width="2.9" stroke-linejoin="miter" stroke-linecap="butt"/>
<rect x="478.30" y="959.25" width="5.70" height="17.75" fill="#00008B"/>
<rect x="484.00" y="959.25" width="1.30" height="17.75" fill="#00008B" fill-opacity="0.9"/>
<rect x="485.30" y="959.25" width="3.70" height="17.75" fill="#00008B"/>
<rect x="491.10" y="959.25" width="3.40" height="17.75" fill="#00008B"/>
<rect x="494.50" y="959.25" width="1.20" height="17.75" fill="#00008B" fill-opacity="0.85"/>
<rect x="495.70" y="959.25" width="2.00" height="17.75" fill="#00008B"/>
<rect x="523.20" y="959.25" width="2.40" height="17.75" fill="#00008B"/>
<rect x="573.10" y="959.25" width="0.80" height="17.75" fill="#00008B"/>
<rect x="623.00" y="959.25" width="0.80" height="17.75" fill="#00008B" fill-opacity="0.8"/>
<rect x="629.00" y="959.25" width="1.70" height="17.75" fill="#00008B"/>
<rect x="645.00" y="959.25" width="1.70" height="17.75" fill="#00008B"/>
<rect x="674.00" y="959.25" width="1.20" height="17.75" fill="#00008B"/>
<rect x="676.60" y="959.25" width="1.00" height="17.75" fill="#00008B"/>
<rect x="767.00" y="959.25" width="1.00" height="17.75" fill="#00008B"/>
<rect x="787.60" y="959.25" width="1.80" height="17.75" fill="#00008B"/>
<rect x="826.20" y="959.25" width="1.60" height="17.75" fill="#00008B"/>
<rect x="837.00" y="959.25" width="1.60" height="17.75" fill="#00008B"/>
<rect x="865.00" y="959.25" width="1.60" height="17.75" fill="#00008B"/>
<rect x="1025.00" y="959.25" width="1.60" height="17.75" fill="#00008B"/>
<rect x="1030.00" y="959.25" width="0.50" height="17.75" fill="#00008B" fill-opacity="0.7"/>
<rect x="1174.40" y="959.25" width="1.00" height="17.75" fill="#00008B" fill-opacity="0.9"/>
<rect x="1256.40" y="959.25" width="9.60" height="17.75" fill="#00008B"/>
<text class="gene" x="872.3" y="955.7">Alg9</text>
<line x1="397.5" x2="459.3" y1="1060.6" y2="1060.6" stroke="#00008B" stroke-width="3.4" stroke-linecap="round"/>
<polyline points="394.80,1055.00 400.40,1060.60 394.80,1066.20" fill="none" stroke="#00008B" stroke-width="2.9" stroke-linejoin="miter" stroke-linecap="butt"/>
<polyline points="413.40,1055.00 419.00,1060.60 413.40,1066.20" fill="none" stroke="#00008B" stroke-width="2.9" stroke-linejoin="miter" stroke-linecap="butt"/>
<polyline points="431.90,1055.00 437.50,1060.60 431.90,1066.20" fill="none" stroke="#00008B" stroke-width="2.9" stroke-linejoin="miter" stroke-linecap="butt"/>
<rect x="400.00" y="1052.10" width="7.70" height="17.75" fill="#00008B"/>
<rect x="421.70" y="1052.10" width="8.00" height="17.75" fill="#00008B"/>
<rect x="437.10" y="1052.10" width="21.80" height="17.75" fill="#00008B"/>
<text class="gene" x="429.9" y="1048.3">Fdxacb1</text>
<line x1="398.2" x2="481.5" y1="1153.5" y2="1153.5" stroke="#006400" stroke-width="3.4" stroke-linecap="round"/>
<polyline points="403.55,1147.90 397.95,1153.50 403.55,1159.10" fill="none" stroke="#006400" stroke-width="2.9" stroke-linejoin="miter" stroke-linecap="butt"/>
<polyline points="405.30,1147.90 399.70,1153.50 405.30,1159.10" fill="none" stroke="#006400" stroke-width="2.9" stroke-linejoin="miter" stroke-linecap="butt"/>
<polyline points="421.80,1147.90 416.20,1153.50 421.80,1159.10" fill="none" stroke="#006400" stroke-width="2.9" stroke-linejoin="miter" stroke-linecap="butt"/>
<polyline points="458.90,1147.90 453.30,1153.50 458.90,1159.10" fill="none" stroke="#006400" stroke-width="2.9" stroke-linejoin="miter" stroke-linecap="butt"/>
<polyline points="477.20,1147.90 471.60,1153.50 477.20,1159.10" fill="none" stroke="#006400" stroke-width="2.9" stroke-linejoin="miter" stroke-linecap="butt"/>
<polyline points="478.90,1147.90 473.30,1153.50 478.90,1159.10" fill="none" stroke="#006400" stroke-width="2.9" stroke-linejoin="miter" stroke-linecap="butt"/>
<rect x="404.90" y="1145.00" width="3.10" height="17.75" fill="#006400"/>
<rect x="429.90" y="1145.00" width="1.90" height="17.75" fill="#006400"/>
<rect x="434.20" y="1145.00" width="10.00" height="17.75" fill="#006400"/>
<rect x="466.30" y="1145.00" width="0.50" height="17.75" fill="#006400" fill-opacity="0.6"/>
<rect x="476.80" y="1145.00" width="7.10" height="17.75" fill="#006400"/>
<polygon points="472.4,1153.5 477.2,1148.3 477.2,1158.7" fill="#006400"/>
<text class="gene" x="441" y="1141.3">1110032A03Rik</text>
<line x1="1285" x2="1322.5" y1="1153.5" y2="1153.5" stroke="#00008B" stroke-width="3.4" stroke-linecap="butt"/>
<polyline points="1280.50,1147.90 1286.10,1153.50 1280.50,1159.10" fill="none" stroke="#00008B" stroke-width="2.9" stroke-linejoin="miter" stroke-linecap="butt"/>
<polyline points="1298.90,1147.90 1304.50,1153.50 1298.90,1159.10" fill="none" stroke="#00008B" stroke-width="2.9" stroke-linejoin="miter" stroke-linecap="butt"/>
<polyline points="1317.60,1147.90 1323.20,1153.50 1317.60,1159.10" fill="none" stroke="#00008B" stroke-width="2.9" stroke-linejoin="miter" stroke-linecap="butt"/>
<rect x="1286.1" y="1144.90" width="0.8" height="17.3" fill="#00008B"/>
<text class="gene" x="1305.3" y="1141.4">Ppp2r1b</text>
</g>
<g id="peaks">
<rect x="105" y="1212.7" width="3" height="85" fill="#000"/>
<text class="ttl" transform="translate(69.6,1254) rotate(-90)">Peaks</text>
<rect x="398.00" y="1249.1" width="9.00" height="11.7" fill="#696969"/>
<rect x="462.00" y="1249.1" width="8.75" height="11.7" fill="#696969"/>
<rect x="478.00" y="1249.1" width="9.75" height="11.7" fill="#696969"/>
<rect x="558.00" y="1249.1" width="10.50" height="11.7" fill="#696969"/>
<rect x="580.00" y="1249.1" width="10.00" height="11.7" fill="#696969"/>
<rect x="725.00" y="1249.1" width="9.50" height="11.7" fill="#696969"/>
<rect x="742.50" y="1249.1" width="9.50" height="11.7" fill="#696969"/>
<rect x="773.75" y="1249.1" width="10.75" height="11.7" fill="#696969"/>
<rect x="798.25" y="1249.1" width="12.75" height="11.7" fill="#696969"/>
<rect x="863.00" y="1249.1" width="5.30" height="11.7" fill="#696969"/>
<rect x="869.00" y="1249.1" width="5.25" height="11.7" fill="#696969"/>
<rect x="891.75" y="1249.1" width="9.75" height="11.7" fill="#696969"/>
<rect x="922.00" y="1249.1" width="9.50" height="11.7" fill="#696969"/>
<rect x="952.50" y="1249.1" width="10.50" height="11.7" fill="#696969"/>
<rect x="972.00" y="1249.1" width="9.50" height="11.7" fill="#696969"/>
<rect x="989.50" y="1249.1" width="11.00" height="11.7" fill="#696969"/>
<rect x="1033.75" y="1249.1" width="15.25" height="11.7" fill="#696969"/>
<rect x="1059.50" y="1249.1" width="8.75" height="11.7" fill="#696969"/>
<rect x="1091.25" y="1249.1" width="9.50" height="11.7" fill="#696969"/>
<rect x="1153.00" y="1249.1" width="8.50" height="11.7" fill="#696969"/>
<rect x="1166.25" y="1249.1" width="9.50" height="11.7" fill="#696969"/>
<rect x="1184.50" y="1249.1" width="9.75" height="11.7" fill="#696969"/>
<rect x="1222.50" y="1249.1" width="10.50" height="11.7" fill="#696969"/>
<rect x="1235.75" y="1249.1" width="11.25" height="11.7" fill="#696969"/>
<rect x="1287.00" y="1249.1" width="9.75" height="11.7" fill="#696969"/>
</g>
<g id="xaxis">
<rect x="351.6" y="1296.2" width="1018.3" height="3" fill="#000"/>
<rect x="534.10" y="1297.7" width="3" height="7.2" fill="#333"/>
<text class="tick" x="535.6" y="1328.9">50780000</text>
<rect x="764.00" y="1297.7" width="3" height="7.2" fill="#333"/>
<text class="tick" x="765.5" y="1328.9">50800000</text>
<rect x="993.80" y="1297.7" width="3" height="7.2" fill="#333"/>
<text class="tick" x="995.3" y="1328.9">50820000</text>
<rect x="1223.80" y="1297.7" width="3" height="7.2" fill="#333"/>
<text class="tick" x="1225.3" y="1328.9">50840000</text>
<text class="ttl" x="860.6" y="1364.0">chr9 position (bp)</text>
</g>
</svg>
</body></html>
